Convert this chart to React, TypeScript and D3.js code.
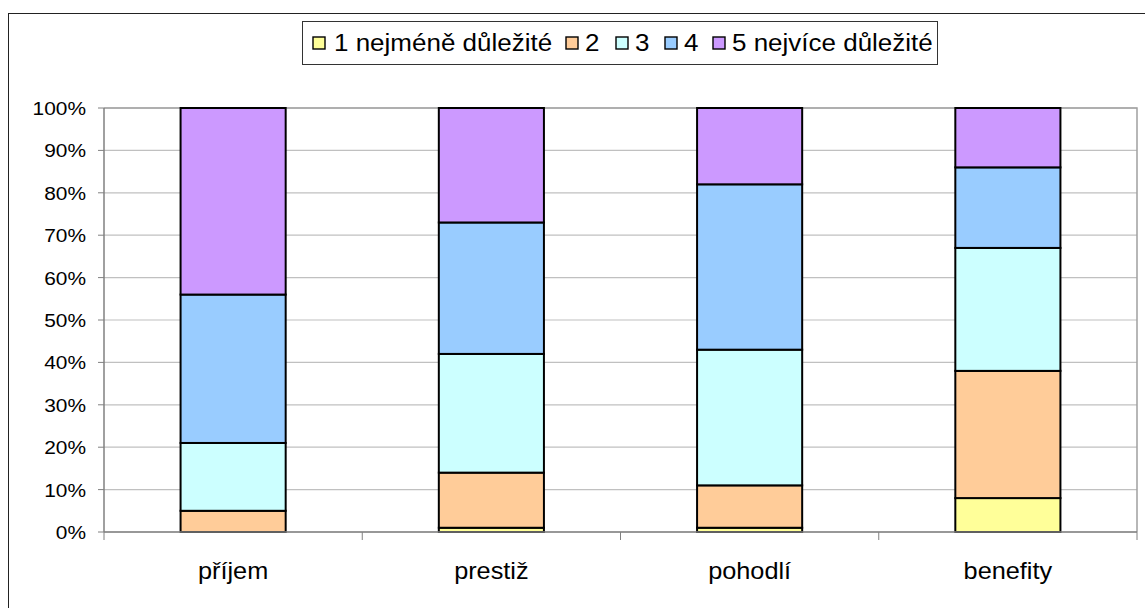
import * as d3 from "d3";

const W = 1145;
const H = 608;

// categories on the x axis
const categories = ["příjem", "prestiž", "pohodlí", "benefity"];
// series (importance levels), bottom to top
const seriesNames = ["1 nejméně důležité", "2", "3", "4", "5 nejvíce důležité"];
const seriesColors = ["#FFFF99", "#FFCC99", "#CCFFFF", "#99CCFF", "#CC99FF"];
// percentage shares per category, one array per series
const level1 = [0, 1, 1, 8];
const level2 = [5, 13, 10, 30];
const level3 = [16, 28, 32, 29];
const level4 = [35, 31, 39, 19];
const level5 = [44, 27, 18, 14];
const yTicks = [0, 10, 20, 30, 40, 50, 60, 70, 80, 90, 100];

const FONT = "Liberation Sans, Arial, sans-serif";

// the original picture is a bit wider than tall, so text is stretched sideways
const Stretched = ({ x, y, sx, anchor, size, children }: any) => (
  <text
    transform={`translate(${x},${y}) scale(${sx},1)`}
    textAnchor={anchor}
    fontSize={size}
    fill="#000"
  >
    {children}
  </text>
);

export default function App() {
  const left = 104;
  const right = 1137;
  const top = 108;
  const bottom = 532;

  const x = d3
    .scaleBand<string>()
    .domain(categories)
    .range([left, right])
    .paddingInner(0.593)
    .paddingOuter(0.2965);
  const y = d3.scaleLinear().domain([0, 100]).range([bottom, top]);

  const rows = categories.map((c, i) => {
    const r: any = { cat: c };
    [level1, level2, level3, level4, level5].forEach((arr, k) => {
      r["s" + k] = arr[i];
    });
    return r;
  });
  const keys = seriesNames.map((_, k) => "s" + k);
  // normalise each column to 100%
  rows.forEach((r) => {
    const tot = d3.sum(keys, (k) => r[k]);
    keys.forEach((k) => (r[k] = (r[k] / tot) * 100));
  });
  const stacked = d3.stack<any>().keys(keys)(rows);

  const step = x.step();
  const boundaries = d3.range(categories.length + 1).map((i) => left + i * step);

  // legend layout (swatch + text per item)
  const legendItems = [
    { sx: 313, tx: 334 },
    { sx: 566, tx: 585 },
    { sx: 616, tx: 635 },
    { sx: 665, tx: 684 },
    { sx: 713, tx: 732 },
  ];

  return (
    <svg
      width={W}
      height={H}
      style={{ position: "absolute", left: 0, top: 0, background: "#fff" }}
      fontFamily={FONT}
    >
      {/* chart area border */}
      <rect x={8.5} y={13.5} width={W + 20} height={H + 20} fill="#fff" stroke="#222" strokeWidth={1} />

      {/* gridlines */}
      {yTicks.map((t) => (
        <line key={"g" + t} x1={left} x2={right} y1={y(t)} y2={y(t)} stroke="#c0c0c0" strokeWidth={1.2} />
      ))}
      {/* plot area border top/right */}
      <path d={`M${left},${top}H${right}V${bottom}`} fill="none" stroke="#a0a0a0" strokeWidth={1.5} />

      {/* bars */}
      {stacked.map((layer, k) => (
        <g key={layer.key}>
          {layer.map((d, i) =>
            d[1] - d[0] > 0 ? (
              <rect
                key={i}
                x={x(categories[i])}
                y={y(d[1])}
                width={x.bandwidth()}
                height={y(d[0]) - y(d[1])}
                fill={seriesColors[k]}
                stroke="#000"
                strokeWidth={2}
              />
            ) : null
          )}
        </g>
      ))}

      {/* y axis */}
      <line x1={left} x2={left} y1={top} y2={bottom} stroke="#808080" strokeWidth={1.5} />
      {yTicks.map((t) => (
        <g key={"t" + t}>
          <line x1={left - 6} x2={left} y1={y(t)} y2={y(t)} stroke="#808080" strokeWidth={1} />
          <Stretched x={86} y={y(t) + 7} sx={1.1} anchor="end" size={19}>
            {t}%
          </Stretched>
        </g>
      ))}

      {/* x axis */}
      <line x1={left} x2={right} y1={bottom} y2={bottom} stroke="#808080" strokeWidth={1.5} />
      {boundaries.map((b, i) => (
        <line key={"xb" + i} x1={b} x2={b} y1={bottom} y2={bottom + 8} stroke="#808080" strokeWidth={1} />
      ))}
      {categories.map((c) => (
        <Stretched key={c} x={x(c)! + x.bandwidth() / 2} y={579} sx={1.1} anchor="middle" size={23}>
          {c}
        </Stretched>
      ))}

      {/* legend */}
      <rect x={302.5} y={21.5} width={635} height={43} fill="#fff" stroke="#333" strokeWidth={1} />
      {seriesNames.map((n, k) => (
        <g key={n}>
          <rect
            x={legendItems[k].sx}
            y={37}
            width={12}
            height={12}
            fill={seriesColors[k]}
            stroke="#000"
            strokeWidth={1.4}
          />
          <Stretched x={legendItems[k].tx} y={51} sx={1.13} anchor="start" size={23}>
            {n}
          </Stretched>
        </g>
      ))}
    </svg>
  );
}
